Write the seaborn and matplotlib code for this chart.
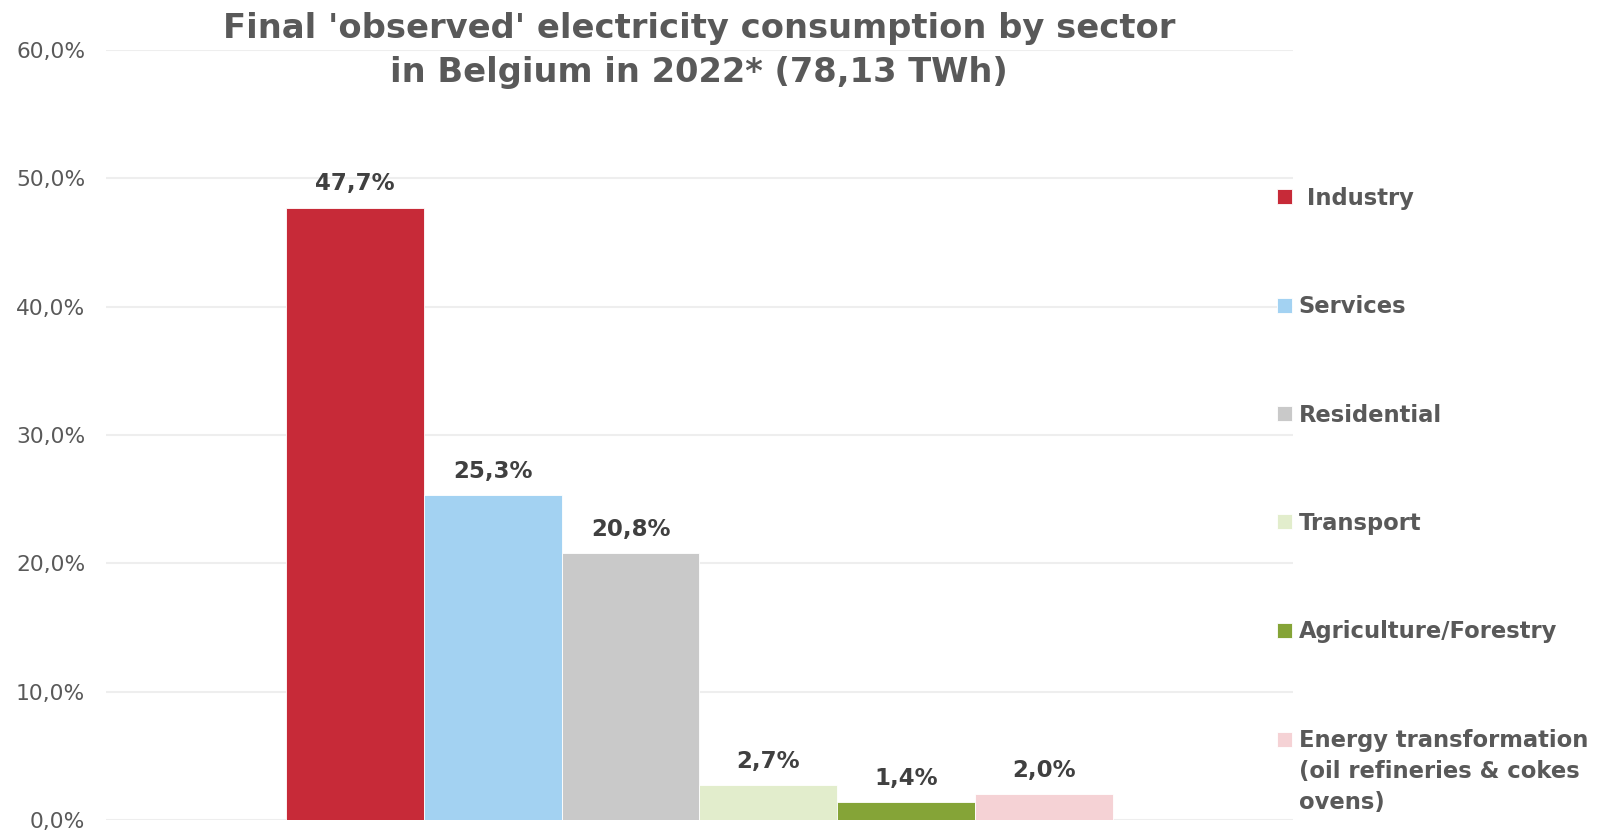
import matplotlib
matplotlib.use("Agg")
import matplotlib.pyplot as plt
import seaborn as sns
from matplotlib.ticker import FuncFormatter, MultipleLocator

# data
sectors = [" Industry", "Services", "Residential", "Transport",
           "Agriculture/Forestry",
           "Energy transformation\n(oil refineries & cokes\novens)"]
shares = [47.7, 25.3, 20.8, 2.7, 1.4, 2.0]
colors = ["#C72A38", "#A3D2F2", "#C9C9C9", "#E2EDCC", "#85A437", "#F5D2D5"]
year = ["2022"] * len(sectors)

sns.set_theme(style="white")
plt.rcParams['font.family'] = ['DejaVu Sans']

fig = plt.figure(figsize=(16.11, 8.34), dpi=100)
ax = fig.add_axes([0.0658, 0.0168, 0.7368, 0.9232])

sns.barplot(x=year, y=shares, hue=sectors, hue_order=sectors,
            palette=colors, width=0.696, saturation=1,
            edgecolor="white", linewidth=0.6, ax=ax)

# value labels above the bars
for cont, v in zip(ax.containers, shares):
    ax.bar_label(cont, labels=[f"{v:.1f}%".replace(".", ",")], padding=9,
                 fontsize=16.5, fontweight="bold", color="#404040")

ax.set_ylim(0, 60)
ax.set_xlim(-0.5, 0.5)
ax.yaxis.set_major_locator(MultipleLocator(10))
ax.yaxis.set_major_formatter(FuncFormatter(lambda v, p: f"{v:.1f}%".replace(".", ",")))
ax.tick_params(axis="y", labelsize=15.7, labelcolor="#595959", length=0, pad=15)
ax.set_xticks([])
ax.set_xlabel("")
ax.set_ylabel("")
ax.grid(axis="y", color="#EEEEEE", linewidth=1.5)
ax.set_axisbelow(True)
sns.despine(ax=ax, left=True, bottom=True)

fig.text(0.434, 0.986, "Final 'observed' electricity consumption by sector\nin Belgium in 2022* (78,13 TWh)",
         ha="center", va="top", fontsize=24.3, fontweight="bold", color="#595959",
         linespacing=1.45)

handles, labels = ax.get_legend_handles_labels()
leg = ax.legend(handles, labels, loc="upper left", bbox_to_anchor=(0.7927, 0.776),
                bbox_transform=fig.transFigure, frameon=False,
                prop={"size": 16.3, "weight": "bold"}, labelcolor="#595959",
                handlelength=0.65, handleheight=0.65, handletextpad=0.3,
                labelspacing=3.77, borderpad=0, borderaxespad=0)

# wrapped entry: wider line gap, marker next to its first line
leg.get_texts()[-1].set_linespacing(1.47)
last = leg.legend_handles[-1]
last.set_y(last.get_y() + 23.5)

fig.savefig("out.png", dpi=100)
